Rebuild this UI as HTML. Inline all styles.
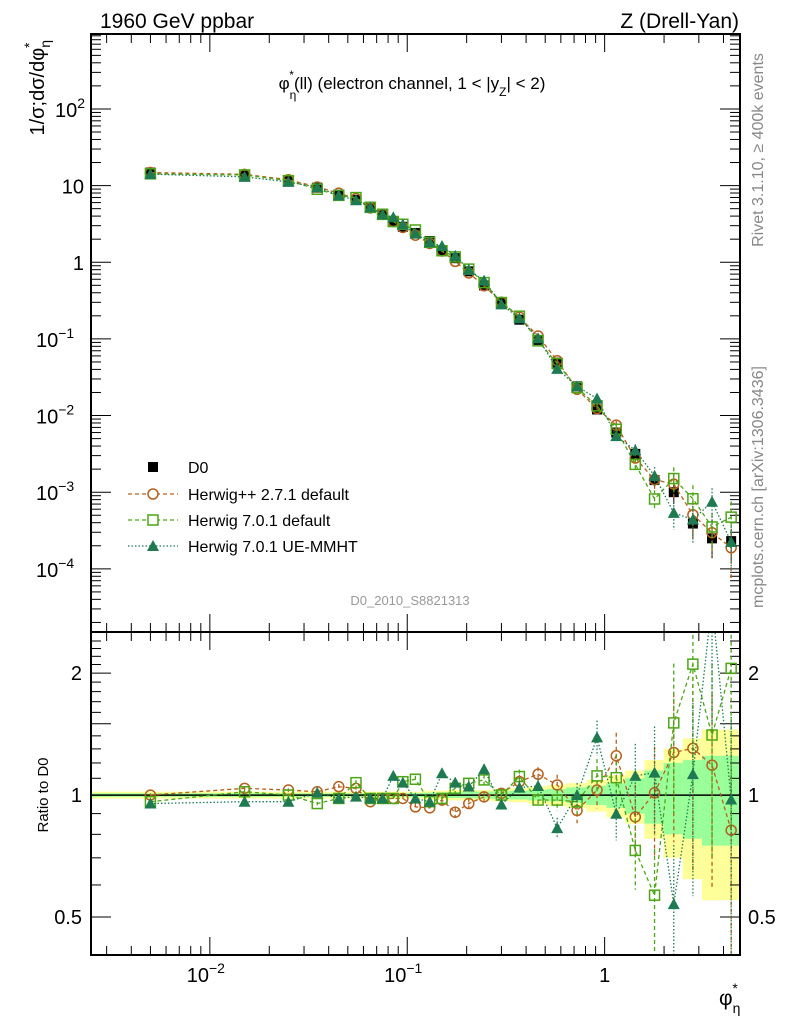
<!DOCTYPE html>
<html><head><meta charset="utf-8"><style>
html,body{margin:0;padding:0;background:#fff;}
svg{display:block;font-family:"Liberation Sans",sans-serif;}
</style></head><body>
<svg id="chart" width="786" height="1024" viewBox="0 0 786 1024" xmlns="http://www.w3.org/2000/svg">
<g id="bands"></g>
<g id="grid"></g>
<g id="series"></g>
<rect x="91" y="34" width="649" height="598" fill="none" stroke="#000" stroke-width="2"/>
<rect x="91" y="632" width="649" height="323" fill="none" stroke="#000" stroke-width="2"/>
<text x="100" y="28" font-size="21">1960 GeV ppbar</text>
<text x="739" y="28" font-size="21" text-anchor="end">Z (Drell-Yan)</text>
<text x="412" y="89" font-size="17" text-anchor="middle">φ<tspan dy="10" font-size="12">η</tspan><tspan dy="-20" dx="-7" font-size="12">*</tspan><tspan dy="10">(ll) (electron channel, 1 &lt; |y</tspan><tspan dy="7" font-size="12">Z</tspan><tspan dy="-7">| &lt; 2)</tspan></text>
<text transform="translate(44,40) rotate(-90)" font-size="20" text-anchor="end">1/σ;dσ/dφ<tspan dy="6" font-size="14">η</tspan><tspan dy="-16" dx="-8" font-size="14">*</tspan></text>
<text transform="translate(48,795) rotate(-90)" font-size="15" text-anchor="middle">Ratio to D0</text>
<text x="719" y="1005" font-size="21">φ<tspan dy="8" font-size="14">η</tspan><tspan dy="-20" dx="-8" font-size="14">*</tspan></text>
<text transform="translate(763,150) rotate(-90)" font-size="16" fill="#888" text-anchor="middle">Rivet 3.1.10, ≥ 400k events</text>
<text transform="translate(763,487) rotate(-90)" font-size="16" fill="#888" text-anchor="middle">mcplots.cern.ch [arXiv:1306.3436]</text>
<text x="410" y="605" font-size="13" fill="#999" text-anchor="middle">D0_2010_S8821313</text>
<g id="legend">
<rect x="148" y="462" width="10" height="10" fill="#000"/>
<text x="188" y="473" font-size="16">D0</text>
<line x1="128" y1="494" x2="178" y2="494" stroke="#b5601e" stroke-width="1.3" stroke-dasharray="4,3"/>
<circle cx="153" cy="494" r="5" fill="#fff" stroke="#b5601e" stroke-width="1.5"/>
<text x="188" y="500" font-size="16">Herwig++ 2.7.1 default</text>
<line x1="128" y1="520" x2="178" y2="520" stroke="#4ca615" stroke-width="1.3" stroke-dasharray="4,3"/>
<rect x="148" y="515" width="10" height="10" fill="#fff" stroke="#4ca615" stroke-width="1.5"/>
<text x="188" y="526" font-size="16">Herwig 7.0.1 default</text>
<line x1="128" y1="546" x2="178" y2="546" stroke="#1f7a52" stroke-width="1.3" stroke-dasharray="1.5,2"/>
<polygon points="153,540 159,551 147,551" fill="#1f7a52"/>
<text x="188" y="552" font-size="16">Herwig 7.0.1 UE-MMHT</text>
</g>
</svg>
<script>
const xCenters=[0.005,0.015,0.025,0.035,0.045,0.055,0.065,0.075,0.085,0.095,0.11,0.13,0.15,0.175,0.205,0.245,0.3,0.37,0.46,0.575,0.725,0.915,1.145,1.43,1.79,2.24,2.8,3.5,4.375];
const binEdges=[0,0.01,0.02,0.03,0.04,0.05,0.06,0.07,0.08,0.09,0.1,0.12,0.14,0.16,0.19,0.22,0.27,0.33,0.41,0.51,0.64,0.81,1.02,1.27,1.59,1.99,2.49,3.11,3.89,4.86];
const d0Values=[14.8,13.5,11.6,9.4,7.6,6.5,5.3,4.3,3.46,2.9,2.41,1.89,1.44,1.13,0.761,0.498,0.298,0.178,0.097,0.049,0.024,0.012,0.006,0.00316,0.00144,0.001,0.00039,0.00025,0.00023];
const totErr=[0.02,0.02,0.02,0.02,0.02,0.02,0.02,0.02,0.02,0.02,0.02,0.025,0.025,0.03,0.03,0.03,0.035,0.04,0.05,0.06,0.07,0.09,0.12,0.15,0.22,0.30,0.38,0.45,0.45];
const statErr=[0.01,0.01,0.01,0.01,0.01,0.01,0.01,0.01,0.01,0.012,0.012,0.014,0.015,0.017,0.018,0.02,0.022,0.025,0.03,0.035,0.045,0.055,0.07,0.1,0.15,0.2,0.22,0.25,0.25];
const ratioHerwigpp=[1.0,1.039,1.029,1.019,1.049,1.039,0.963,0.981,0.981,0.981,0.935,0.930,0.972,0.907,0.953,0.99,1.01,1.079,1.126,1.059,0.916,1.029,1.25,0.883,1.013,1.274,1.304,1.185,0.819];
const ratioHerwig7=[0.963,1.019,1.0,0.953,0.981,1.073,0.981,0.981,0.981,1.079,1.094,0.963,0.981,1.039,1.069,1.09,1.0,1.111,0.972,0.972,0.963,1.115,1.104,0.730,0.566,1.507,2.104,1.407,2.054];
const ratioUEMMHT=[0.953,0.963,0.963,1.013,0.981,0.991,0.981,0.981,1.115,1.073,0.981,0.963,1.132,1.073,1.049,1.158,0.948,1.043,1.053,0.829,1.0,1.388,0.899,1.115,1.136,0.538,1.126,3.0,0.975];
const mcErr=[0.01,0.01,0.01,0.01,0.015,0.015,0.015,0.015,0.02,0.02,0.02,0.02,0.025,0.025,0.03,0.03,0.03,0.04,0.04,0.06,0.07,0.1,0.14,0.2,0.3,0.4,0.5,0.5,0.6];
const yMainTicks=[1e-4,1e-3,1e-2,1e-1,1,10,100];
const yMainLabels=["10","10","10","10","1","10","10"];
const yMainSup=["−4","−3","−2","−1","","","2"];
const yRatioTicks=[0.5,1,2];
const yRatioLabels=["0.5","1","2"];
const xTicks=[0.01,0.1,1];
const xLabels=["10","10","1"];
const xSup=["−2","−1",""];

const XL=91,XR=740,XMIN=0.0025,XMAX=4.85;
const MT=34,MB=632,YMIN=1.5e-5,YMAX=950;
const RT=632,RB=955,RMIN=0.403,RMAX=2.526;
const NS="http://www.w3.org/2000/svg";
function X(v){return XL+(Math.log10(Math.max(v,XMIN))-Math.log10(XMIN))/(Math.log10(XMAX)-Math.log10(XMIN))*(XR-XL);}
function YM(v){return MB-(Math.log10(v)-Math.log10(YMIN))/(Math.log10(YMAX)-Math.log10(YMIN))*(MB-MT);}
function YR(v){return RB-(Math.log10(v)-Math.log10(RMIN))/(Math.log10(RMAX)-Math.log10(RMIN))*(RB-RT);}
function mk(tag,attrs,parent){const e=document.createElementNS(NS,tag);for(const k in attrs)e.setAttribute(k,attrs[k]);parent.appendChild(e);return e;}
const bands=document.getElementById('bands'),grid=document.getElementById('grid'),series=document.getElementById('series');

const defs=mk('defs',{},document.getElementById('chart'));
const cm=mk('clipPath',{id:'clipMain'},defs);mk('rect',{x:XL,y:MT,width:XR-XL,height:MB-MT},cm);
const cr=mk('clipPath',{id:'clipRatio'},defs);mk('rect',{x:XL,y:RT,width:XR-XL,height:RB-RT},cr);
bands.setAttribute('clip-path','url(#clipRatio)');

for(let i=0;i<xCenters.length;i++){
  const x0=X(binEdges[i]),x1=Math.min(X(binEdges[i+1]),XR);
  const y=mk('rect',{x:x0,y:YR(1+totErr[i]),width:x1-x0,height:YR(1-totErr[i])-YR(1+totErr[i]),fill:'#ffff99'},bands);
  
  
}
for(let i=0;i<xCenters.length;i++){
  const x0=X(binEdges[i]),x1=Math.min(X(binEdges[i+1]),XR);
  const g=mk('rect',{x:x0,y:YR(1+statErr[i]),width:x1-x0,height:YR(1-statErr[i])-YR(1+statErr[i]),fill:'#99ff99'},bands);
  
  
}
const ref=mk('line',{x1:XL,x2:XR,y1:YR(1),y2:YR(1),stroke:'#000','stroke-width':1.5},bands);



const dec=[0.001,0.01,0.1,1];
for(const d of dec){for(let m=1;m<10;m++){const v=d*m;if(v<XMIN||v>XMAX)continue;const x=X(v);const L=m==1?18:9;
  for(const [yt,yb] of [[MT,MB],[RT,RB]]){
    const t1=mk('line',{x1:x,x2:x,y1:yb,y2:yb-L,stroke:'#000','stroke-width':1},grid);
    
    
    const t2=mk('line',{x1:x,x2:x,y1:yt,y2:yt+L,stroke:'#000','stroke-width':1},grid);
    
    
  }}}
xTicks.forEach((v,i)=>{const x=X(v);const t=mk('text',{x:x,y:982,'font-size':20,'text-anchor':'middle'},grid);
  t.textContent=xLabels[i];if(xSup[i]){const s=mk('tspan',{dy:-9,'font-size':14},t);s.textContent=xSup[i];t.setAttribute('x',x-4);}
  
  });

for(let e=-5;e<=2;e++){for(let m=1;m<10;m++){const v=Math.pow(10,e)*m;if(v<YMIN||v>YMAX)continue;const y=YM(v);const L=m==1?20:10;
  const a=mk('line',{x1:XL,x2:XL+L,y1:y,y2:y,stroke:'#000','stroke-width':1},grid);
  
  
  const b=mk('line',{x1:XR,x2:XR-L,y1:y,y2:y,stroke:'#000','stroke-width':1},grid);
  
  }}
yMainTicks.forEach((v,i)=>{const y=YM(v)+8;const t=mk('text',{x:yMainSup[i]?66:84,y:y,'font-size':20,'text-anchor':'end'},grid);
  t.textContent=yMainLabels[i];if(yMainSup[i]){const s=mk('tspan',{dy:-9,'font-size':14,'text-anchor':'start'},t);s.textContent=yMainSup[i];}
  if(yMainSup[i]){t.setAttribute('text-anchor','start');t.setAttribute('x',yMainSup[i].length>1?36:55);}
  
  });

for(let v=0.5;v<=2.5;v+=0.1){const vv=Math.round(v*10)/10;const y=YR(vv);const maj=(vv==0.5||vv==1||vv==2||vv==1.5||vv==2.5);const L=maj?20:10;
  const a=mk('line',{x1:XL,x2:XL+L,y1:y,y2:y,stroke:'#000','stroke-width':1},grid);
  
  
  const b=mk('line',{x1:XR,x2:XR-L,y1:y,y2:y,stroke:'#000','stroke-width':1},grid);
  
  }
yRatioTicks.forEach((v,i)=>{const y=YR(v)+7;
  const t=mk('text',{x:82,y:y,'font-size':20,'text-anchor':'end'},grid);t.textContent=yRatioLabels[i];
  
  
  const t2=mk('text',{x:748,y:y,'font-size':20},grid);t2.textContent=yRatioLabels[i];
  
  });

const styles=[
 {name:'herwigpp',ratio:ratioHerwigpp,color:'#b5601e',dash:'4,3',marker:'circle'},
 {name:'herwig7',ratio:ratioHerwig7,color:'#4ca615',dash:'4,3',marker:'square'},
 {name:'ue-mmht',ratio:ratioUEMMHT,color:'#1f7a52',dash:'1.5,2',marker:'triangle'}];
function marker(g,type,x,y,c,name){let e;
  if(type=='circle')e=mk('circle',{cx:x,cy:y,r:5,fill:'none',stroke:c,'stroke-width':1.5},g);
  else if(type=='square')e=mk('rect',{x:x-5,y:y-5,width:10,height:10,fill:'none',stroke:c,'stroke-width':1.5},g);
  else if(type=='triangle')e=mk('polygon',{points:`${x},${y-6} ${x+6},${y+5} ${x-6},${y+5}`,fill:c},g);
  else e=mk('rect',{x:x-5,y:y-5,width:10,height:10,fill:c},g);
  
  }
const gm=mk('g',{'clip-path':'url(#clipMain)'},series);
const gr=mk('g',{'clip-path':'url(#clipRatio)'},series);
xCenters.forEach((xv,i)=>{const x=X(xv),y=YM(d0Values[i]);
  const eb=mk('line',{x1:x,x2:x,y1:YM(d0Values[i]*(1+totErr[i])),y2:YM(d0Values[i]*(1-totErr[i])),stroke:'#000','stroke-width':1},gm);
  
  
  marker(gm,'filled',x,y,'#000','d0-point');});
styles.forEach(s=>{
  for(const [g,f] of [[gm,i=>YM(d0Values[i]*s.ratio[i])],[gr,i=>YR(s.ratio[i])]]){
    const pts=xCenters.map((xv,i)=>X(xv)+','+f(i)).join(' ');
    const pl=mk('polyline',{points:pts,fill:'none',stroke:s.color,'stroke-width':1.3,'stroke-dasharray':s.dash},g);
    
    
    xCenters.forEach((xv,i)=>{const x=X(xv);const isMain=g===gm;
      const base=isMain?d0Values[i]*s.ratio[i]:s.ratio[i];const fn=isMain?YM:YR;
      const e=mk('line',{x1:x,x2:x,y1:fn(base*(1+mcErr[i])),y2:fn(Math.max(base*(1-mcErr[i]),1e-9)),stroke:s.color,'stroke-width':1.3,'stroke-dasharray':s.dash},g);
      
      
      marker(g,s.marker,x,fn(base),s.color,s.name+'-point');});
  }});
</script>
</body></html>
